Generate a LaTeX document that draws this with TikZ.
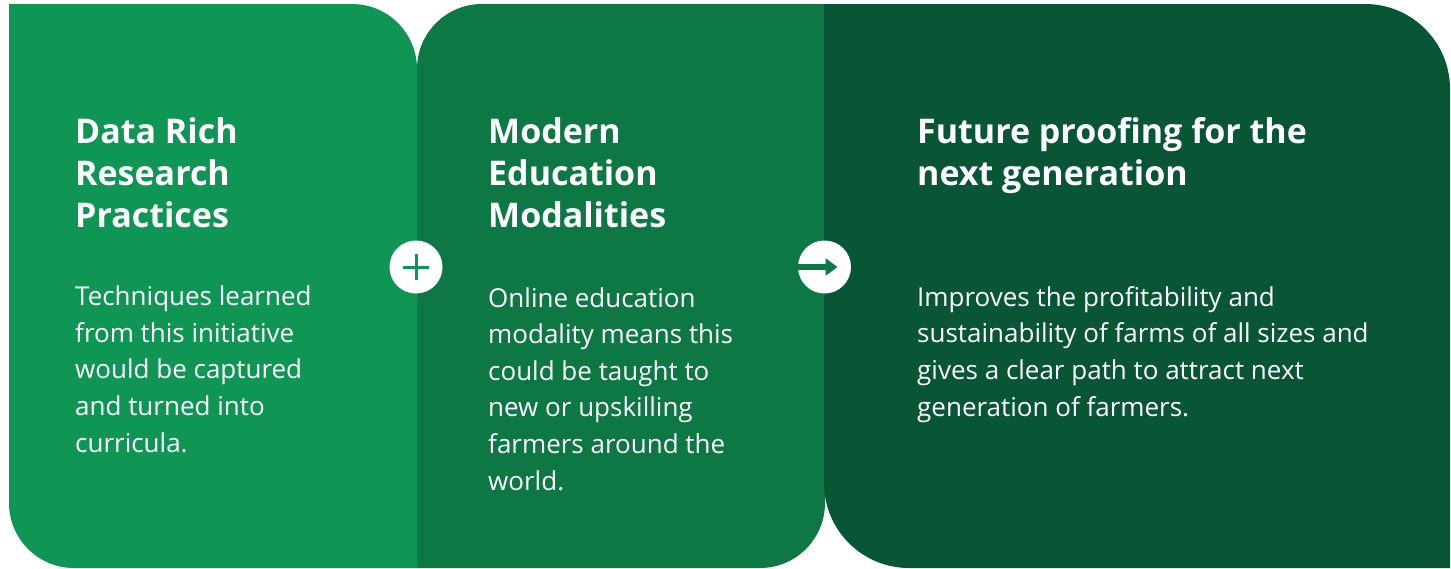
\documentclass[tikz,border=0pt]{standalone}
\usepackage{fontspec}
\setmainfont{Open Sans}
\usetikzlibrary{arrows.meta}

\definecolor{greenA}{RGB}{16,150,84}
\definecolor{greenB}{RGB}{13,120,68}
\definecolor{greenC}{RGB}{8,86,53}

\tikzset{
  title/.style={anchor=base west,inner sep=0pt,align=left,text=white,
    font=\bfseries\fontsize{34}{42}\selectfont},
  body/.style={anchor=base west,inner sep=0pt,align=left,text=white,
    font=\fontsize{26}{36.6}\selectfont},
  badge/.style={circle,fill=white,minimum size=53pt,inner sep=0pt}
}

\begin{document}
\begin{tikzpicture}[x=1pt,y=-1pt]
\useasboundingbox (0,0) rectangle (1451,568);
% three panels, left to right
\fill[greenA] (9,4) -- (352,4) arc[start angle=-90,end angle=0,radius=65]
  -- (417,568) -- (74,568) arc[start angle=90,end angle=180,radius=65] -- cycle;
\fill[greenB] (417,69) arc[start angle=180,end angle=270,radius=65]
  -- (825,4) -- (825,503) arc[start angle=0,end angle=90,radius=65]
  -- (417,568) -- cycle;
\fill[greenC] (824,4) -- (1365,4) arc[start angle=-90,end angle=0,radius=85]
  -- (1450,568) -- (909,568) arc[start angle=90,end angle=180,radius=85] -- cycle;

% headings and texts (anchored on their last line)
\node[title] (t1) at (75,227) {Data Rich\\Research\\Practices};
\node[body] (b1) at (75,452) {Techniques learned\\from this initiative\\would be captured\\and turned into\\curricula.};
\node[title] (t2) at (488,227) {Modern\\Education\\Modalities};
\node[body] (b2) at (488,490) {Online education\\modality means this\\could be taught to\\new or upskilling\\farmers around the\\world.};
\node[title] (t3) at (917,185) {Future proofing for the\\next generation};
\node[body] (b3) at (917,416) {Improves the profitability and\\sustainability of farms of all sizes and\\gives a clear path to attract next\\generation of farmers.};

% plus and arrow badges on the seams
\node[badge] (plus) at (416,267) {};
\draw[greenA,line width=3pt] ([xshift=-13pt]plus.center) -- ([xshift=13pt]plus.center)
  ([yshift=-13pt]plus.center) -- ([yshift=13pt]plus.center);
\node[badge] (next) at (824.5,267) {};
\draw[greenB,line width=6pt,-{Triangle[length=12pt,width=17pt]}]
  ([xshift=-1pt]next.west) -- ([xshift=13pt]next.center);
\end{tikzpicture}
\end{document}
